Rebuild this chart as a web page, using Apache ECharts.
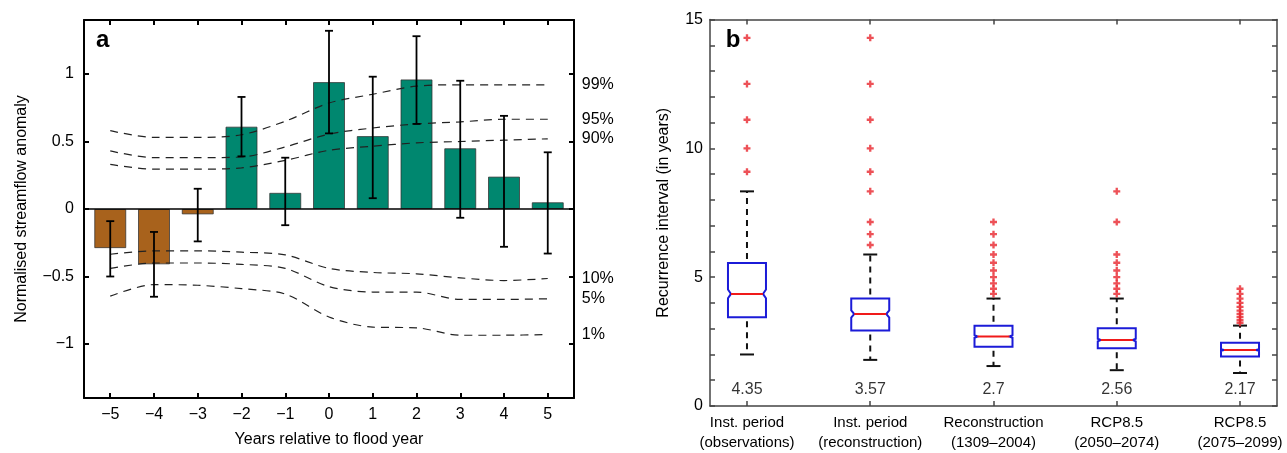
<!DOCTYPE html>
<html>
<head>
<meta charset="utf-8">
<script src="https://cdn.jsdelivr.net/npm/echarts@6/dist/echarts.min.js"></script>
<style>
html, body { margin: 0; padding: 0; background: #fff; }
#chart { width: 1287px; height: 453px; }
</style>
</head>
<body>
<div id="chart"></div>
<script>
// panel a: streamflow anomaly around flood years
var years = [-5, -4, -3, -2, -1, 0, 1, 2, 3, 4, 5];
var anomaly = [-0.29, -0.41, -0.04, 0.61, 0.12, 0.94, 0.54, 0.96, 0.45, 0.24, 0.05];
var errLow = [-0.50, -0.65, -0.24, 0.39, -0.12, 0.56, 0.08, 0.63, -0.065, -0.28, -0.33];
var errHigh = [-0.09, -0.17, 0.15, 0.83, 0.38, 1.32, 0.98, 1.28, 0.95, 0.69, 0.42];
var p99 = [0.58, 0.53, 0.53, 0.55, 0.65, 0.785, 0.85, 0.91, 0.92, 0.92, 0.92];
var p95 = [0.43, 0.38, 0.38, 0.385, 0.46, 0.555, 0.60, 0.63, 0.645, 0.665, 0.665];
var p90 = [0.33, 0.295, 0.295, 0.305, 0.36, 0.435, 0.465, 0.49, 0.50, 0.51, 0.52];
var p10 = [-0.335, -0.31, -0.31, -0.32, -0.34, -0.44, -0.47, -0.48, -0.51, -0.53, -0.515];
var p5 = [-0.44, -0.40, -0.40, -0.41, -0.44, -0.575, -0.615, -0.615, -0.67, -0.67, -0.665];
var p1 = [-0.645, -0.56, -0.565, -0.59, -0.63, -0.80, -0.875, -0.88, -0.935, -0.935, -0.93];
var yTicksA = [-1, -0.5, 0, 0.5, 1];

// panel b: recurrence intervals
var groups = ['Inst. period\n(observations)', 'Inst. period\n(reconstruction)', 'Reconstruction\n(1309\u20132004)', 'RCP8.5\n(2050\u20132074)', 'RCP8.5\n(2075\u20132099)'];
var groupPos = [1, 2, 3, 4, 5];
var whiskerLow = [2.0, 1.79, 1.55, 1.39, 1.28];
var q1 = [3.44, 2.93, 2.30, 2.24, 1.92];
var medians = [4.35, 3.57, 2.7, 2.56, 2.17];
var q3 = [5.55, 4.17, 3.11, 3.02, 2.45];
var whiskerHigh = [8.33, 5.88, 4.17, 4.17, 3.12];
var notchLow = [4.18, 3.43, 2.65, 2.51, 2.14];
var notchHigh = [4.52, 3.71, 2.75, 2.61, 2.20];
var outliers1 = [9.09, 10, 11.11, 12.5, 14.29];
var outliers2 = [6.25, 6.67, 7.14, 8.33, 9.09, 10, 11.11, 12.5, 14.29];
var outliers3 = [4.35, 4.55, 4.76, 5.0, 5.26, 5.56, 5.88, 6.25, 6.67, 7.14];
var outliers4 = [4.35, 4.55, 4.76, 5.0, 5.26, 5.56, 5.88, 7.14, 8.33];
var outliers5 = [3.23, 3.33, 3.45, 3.57, 3.70, 3.85, 4.0, 4.17, 4.35, 4.55];

var FONT = 'Liberation Sans, Arial, sans-serif';
var GREEN = '#00876f';
var BROWN = '#a8621c';

function minus(v) {
    return String(v).replace('-', '\u2212');
}

var barData = [], errData = [];
for (var i = 0; i < years.length; i++) {
    barData.push([years[i], anomaly[i]]);
    errData.push([years[i], errLow[i], errHigh[i]]);
}

function pctSeries(name, vals) {
    var d = [];
    for (var k = 0; k < years.length; k++) d.push([years[k], vals[k]]);
    return {
        name: name,
        type: 'line',
        xAxisIndex: 0,
        yAxisIndex: 0,
        data: d,
        smooth: 0.3,
        symbol: 'none',
        silent: true,
        lineStyle: { color: '#222', width: 1.2, type: [8, 6] },
        endLabel: {
            show: true,
            formatter: name,
            offset: [26, 0],
            color: '#000',
            fontSize: 16,
            fontFamily: FONT
        },
        z: 3
    };
}

var boxData = [], labelData = [], outlierData = [];
var outlierSets = [outliers1, outliers2, outliers3, outliers4, outliers5];
for (var j = 0; j < groupPos.length; j++) {
    boxData.push([groupPos[j], whiskerLow[j], q1[j], medians[j], q3[j], whiskerHigh[j], notchLow[j], notchHigh[j]]);
    labelData.push([groupPos[j], 0.62, medians[j]]);
    for (var m = 0; m < outlierSets[j].length; m++) {
        outlierData.push([groupPos[j], outlierSets[j][m]]);
    }
}

function renderErr(params, api) {
    var x = api.value(0);
    var lo = api.coord([x, api.value(1)]);
    var hi = api.coord([x, api.value(2)]);
    var hw = 4;
    var st = { stroke: '#000', lineWidth: 1.8 };
    return {
        type: 'group',
        children: [
            { type: 'line', shape: { x1: lo[0], y1: lo[1], x2: hi[0], y2: hi[1] }, style: st },
            { type: 'line', shape: { x1: lo[0] - hw, y1: lo[1], x2: lo[0] + hw, y2: lo[1] }, style: st },
            { type: 'line', shape: { x1: hi[0] - hw, y1: hi[1], x2: hi[0] + hw, y2: hi[1] }, style: st }
        ]
    };
}

function renderBox(params, api) {
    var x = api.value(0);
    var c = function (idx) { return api.coord([x, api.value(idx)]); };
    var pLo = c(1), pQ1 = c(2), pMed = c(3), pQ3 = c(4), pHi = c(5), pNl = c(6), pNh = c(7);
    var cx = pMed[0], hw = 19, d = 3, cap = 7;
    var dash = { stroke: '#111', lineWidth: 2, lineDash: [6, 5] };
    var solid = { stroke: '#111', lineWidth: 2 };
    return {
        type: 'group',
        children: [
            { type: 'line', shape: { x1: cx, y1: pQ3[1] - 4, x2: cx, y2: pHi[1] }, style: dash },
            { type: 'line', shape: { x1: cx, y1: pQ1[1] + 4, x2: cx, y2: pLo[1] }, style: dash },
            { type: 'line', shape: { x1: cx - cap, y1: pHi[1], x2: cx + cap, y2: pHi[1] }, style: solid },
            { type: 'line', shape: { x1: cx - cap, y1: pLo[1], x2: cx + cap, y2: pLo[1] }, style: solid },
            {
                type: 'polygon',
                shape: {
                    points: [
                        [cx - hw, pQ1[1]], [cx - hw, pNl[1]], [cx - hw + d, pMed[1]], [cx - hw, pNh[1]], [cx - hw, pQ3[1]],
                        [cx + hw, pQ3[1]], [cx + hw, pNh[1]], [cx + hw - d, pMed[1]], [cx + hw, pNl[1]], [cx + hw, pQ1[1]]
                    ]
                },
                style: { fill: '#fff', stroke: '#1b1bd8', lineWidth: 2 }
            },
            { type: 'line', shape: { x1: cx - hw + d, y1: pMed[1], x2: cx + hw - d, y2: pMed[1] }, style: { stroke: '#f01a1a', lineWidth: 2 } }
        ]
    };
}

var myChart = echarts.init(document.getElementById('chart'));

var axisA = { onZero: false, lineStyle: { color: '#000', width: 2 } };
var axisB = { onZero: false, lineStyle: { color: '#444', width: 1.5 } };
var tickB = { inside: true, length: 5, lineStyle: { color: '#444', width: 1.5 } };
var minorB = { show: true, splitNumber: 5, length: 5, lineStyle: { color: '#444', width: 1.5 } };

var option = {
    animation: false,
    backgroundColor: '#fff',
    textStyle: { fontFamily: FONT },
    grid: [
        { left: 84, top: 20, width: 490, height: 386 },
        { left: 710, top: 19.5, width: 567, height: 388 }
    ],
    graphic: [
        { type: 'text', x: 102.7, y: 40, style: { text: 'a', font: 'bold 24px ' + FONT, align: 'center', verticalAlign: 'middle', fill: '#000' } },
        { type: 'text', x: 733, y: 40, style: { text: 'b', font: 'bold 24px ' + FONT, align: 'center', verticalAlign: 'middle', fill: '#000' } }
    ],
    xAxis: [
        {
            gridIndex: 0, type: 'value', min: -5.6, max: 5.6, position: 'bottom',
            name: 'Years relative to flood year', nameLocation: 'middle', nameGap: 34,
            nameTextStyle: { fontSize: 16, color: '#000', fontFamily: FONT },
            axisLine: axisA, axisTick: { inside: true, length: 5, lineStyle: { color: '#000', width: 2 }, customValues: years },
            axisLabel: { customValues: years, formatter: minus, fontSize: 16, color: '#000', margin: 9, fontFamily: FONT },
            splitLine: { show: false }
        },
        {
            gridIndex: 0, type: 'value', min: -5.6, max: 5.6, position: 'top',
            axisLine: axisA, axisTick: { inside: true, length: 5, lineStyle: { color: '#000', width: 2 }, customValues: years },
            axisLabel: { show: false }, splitLine: { show: false }
        },
        {
            gridIndex: 1, type: 'value', min: 0.7, max: 5.3, position: 'bottom',
            axisLine: axisB, axisTick: { inside: true, length: 5, lineStyle: { color: '#444', width: 1.5 }, customValues: groupPos },
            axisLabel: {
                customValues: groupPos,
                formatter: function (v) { return groups[Math.round(v) - 1]; },
                fontSize: 15, lineHeight: 20, color: '#000', margin: 7, fontFamily: FONT
            },
            splitLine: { show: false }
        },
        {
            gridIndex: 1, type: 'value', min: 0.7, max: 5.3, position: 'top',
            axisLine: axisB, axisTick: { inside: true, length: 5, lineStyle: { color: '#444', width: 1.5 }, customValues: groupPos },
            axisLabel: { show: false }, splitLine: { show: false }
        }
    ],
    yAxis: [
        {
            gridIndex: 0, type: 'value', min: -1.4, max: 1.4, position: 'left',
            name: 'Normalised streamflow anomaly', nameLocation: 'middle', nameGap: 54,
            nameTextStyle: { fontSize: 16, color: '#000', fontFamily: FONT },
            axisLine: axisA, axisTick: { inside: true, length: 5, lineStyle: { color: '#000', width: 2 }, customValues: yTicksA },
            axisLabel: { customValues: yTicksA, formatter: minus, fontSize: 16, color: '#000', margin: 10, fontFamily: FONT },
            splitLine: { show: false }
        },
        {
            gridIndex: 0, type: 'value', min: -1.4, max: 1.4, position: 'right',
            axisLine: axisA, axisTick: { inside: true, length: 5, lineStyle: { color: '#000', width: 2 }, customValues: yTicksA },
            axisLabel: { show: false }, splitLine: { show: false }
        },
        {
            gridIndex: 1, type: 'value', min: 0, max: 15, interval: 5, position: 'left',
            name: 'Recurrence interval (in years)', nameLocation: 'middle', nameGap: 38,
            nameTextStyle: { fontSize: 16, color: '#000', fontFamily: FONT },
            axisLine: axisB, axisTick: tickB, minorTick: minorB,
            axisLabel: { fontSize: 16, color: '#000', margin: 7, fontFamily: FONT },
            splitLine: { show: false }
        },
        {
            gridIndex: 1, type: 'value', min: 0, max: 15, interval: 5, position: 'right',
            axisLine: axisB, axisTick: tickB, minorTick: minorB,
            axisLabel: { show: false }, splitLine: { show: false }
        }
    ],
    series: [
        {
            type: 'bar',
            xAxisIndex: 0,
            yAxisIndex: 0,
            data: barData,
            barWidth: 32,
            itemStyle: {
                color: function (p) { return p.value[1] < 0 ? BROWN : GREEN; },
                borderColor: 'rgba(50,50,50,0.75)',
                borderWidth: 1
            },
            markLine: {
                silent: true,
                symbol: 'none',
                label: { show: false },
                lineStyle: { color: '#000', width: 1.5, type: 'solid' },
                data: [{ yAxis: 0 }]
            },
            z: 2
        },
        pctSeries('99%', p99),
        pctSeries('95%', p95),
        pctSeries('90%', p90),
        pctSeries('10%', p10),
        pctSeries('5%', p5),
        pctSeries('1%', p1),
        {
            type: 'custom',
            xAxisIndex: 0,
            yAxisIndex: 0,
            data: errData,
            renderItem: renderErr,
            encode: { x: 0, y: [1, 2] },
            z: 5
        },
        {
            type: 'custom',
            xAxisIndex: 2,
            yAxisIndex: 2,
            data: boxData,
            renderItem: renderBox,
            encode: { x: 0, y: [1, 5] },
            z: 3
        },
        {
            type: 'scatter',
            xAxisIndex: 2,
            yAxisIndex: 2,
            data: outlierData,
            symbol: 'path://M3,0H6V3H9V6H6V9H3V6H0V3H3Z',
            symbolSize: 7,
            itemStyle: { color: '#e8262d' },
            z: 4
        },
        {
            type: 'scatter',
            xAxisIndex: 2,
            yAxisIndex: 2,
            data: labelData,
            symbolSize: 0,
            label: {
                show: true,
                position: 'inside',
                formatter: function (p) { return String(p.value[2]); },
                fontSize: 16,
                color: '#000',
                fontFamily: FONT
            },
            z: 4
        }
    ]
};
myChart.setOption(option);
</script>
</body>
</html>
